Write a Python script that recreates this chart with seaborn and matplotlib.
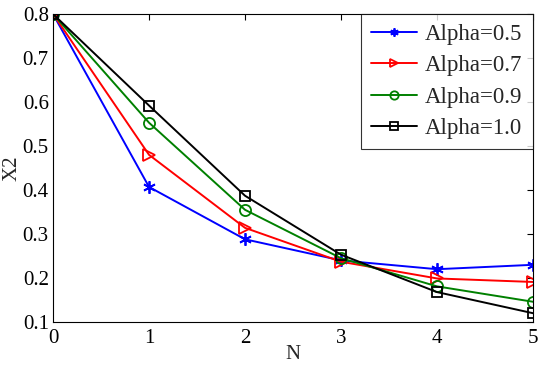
import matplotlib
matplotlib.use("Agg")
import matplotlib.pyplot as plt
import seaborn as sns
import pandas as pd

N = [0, 1, 2, 3, 4, 5]
alpha_05 = [0.80, 0.407, 0.288, 0.240, 0.220, 0.230]
alpha_07 = [0.80, 0.480, 0.314, 0.237, 0.199, 0.191]
alpha_09 = [0.80, 0.553, 0.355, 0.245, 0.181, 0.146]
alpha_10 = [0.80, 0.592, 0.387, 0.253, 0.168, 0.120]
labels = ["Alpha=0.5", "Alpha=0.7", "Alpha=0.9", "Alpha=1.0"]
yticks = [0.1, 0.2, 0.3, 0.4, 0.5, 0.6, 0.7, 0.8]
xticks = [0, 1, 2, 3, 4, 5]

series = [alpha_05, alpha_07, alpha_09, alpha_10]
colors = ["#0000ff", "#ff0000", "#008000", "#000000"]
markers = [(6, 2, 0), ">", "o", "s"]
msizes = [9, 8, 8, 7]

sns.set_theme(style="white")
plt.rcParams["font.family"] = ["Liberation Serif", "DejaVu Serif"]

fig = plt.figure(figsize=(5.5, 3.65), dpi=100)
ax = fig.add_axes([0.0964, 0.1178, 0.8727, 0.8438])

df = pd.DataFrame({"N": N * 4,
                   "X2": sum(series, []),
                   "label": [l for l in labels for _ in N]})

for lab, col, mk, ms in zip(labels, colors, markers, msizes):
    sub = df[df["label"] == lab]
    sns.lineplot(data=sub, x="N", y="X2", ax=ax, color=col, marker=mk,
                 markersize=ms, markerfacecolor="none", markeredgecolor=col,
                 markeredgewidth=1.3, linewidth=1.4, label=lab, legend=False)

ax.set_xlim(0, 5)
ax.set_ylim(0.1, 0.8)
ax.set_xticks(xticks)
ax.set_yticks(yticks)
ax.set_xticklabels([str(v) for v in xticks])
ax.set_yticklabels([f"{v:.1f}" for v in yticks])
ax.tick_params(direction="in", length=4, width=0.8, top=True, right=True,
               labelsize=15, colors="#000000")
ax.tick_params(axis="x", pad=5)
ax.tick_params(axis="y", pad=3)
for sp in ax.spines.values():
    sp.set_visible(True)
    sp.set_color("#000000")
    sp.set_linewidth(0.8)
ax.set_xlabel("N", fontsize=15, labelpad=-2)
ax.set_ylabel("X2", fontsize=15, labelpad=1)

handles = ax.get_lines()
leg = ax.legend(handles, labels, loc="upper right", borderaxespad=0,
                fontsize=16.5, frameon=True, fancybox=False, handlelength=2.0,
                labelspacing=0.44, handletextpad=0.35, borderpad=0.45)
leg.get_frame().set_edgecolor("#000000")
leg.get_frame().set_linewidth(0.8)
for h in leg.legend_handles:
    h.set_markersize(6)

fig.savefig("out.png", dpi=100, facecolor="white")
